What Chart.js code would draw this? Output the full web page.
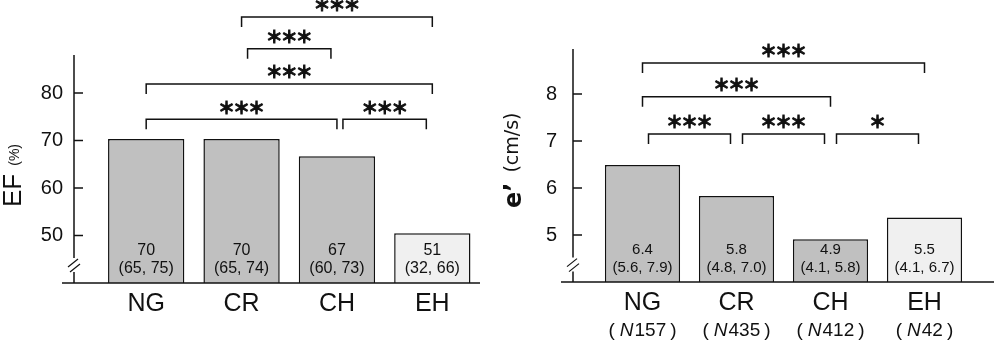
<!DOCTYPE html>
<html>
<head>
<meta charset="utf-8">
<script src="https://cdn.jsdelivr.net/npm/chart.js@4.4.1/dist/chart.umd.min.js"></script>
<style>
body { margin: 0; background: #fff; }
#wrap { position: relative; width: 994px; height: 354px; }
canvas { position: absolute; top: 0; }
</style>
</head>
<body>
<div id="wrap">
  <canvas id="efChart" width="494" height="354" style="left:0"></canvas>
  <canvas id="eChart" width="500" height="354" style="left:494px"></canvas>
</div>
<script>
// data
var groups = ["NG", "CR", "CH", "EH"];

var efValues = [70.3, 70.3, 66.7, 50.5];
var efMedians = ["70", "70", "67", "51"];
var efRanges = ["(65, 75)", "(65, 74)", "(60, 73)", "(32, 66)"];
var efTicks = [50, 60, 70, 80];
var efPairFrom = [1, 1, 0, 0, 2];
var efPairTo = [3, 2, 3, 2, 3];
var efPairLevel = [96, 89.3, 81.9, 74.5, 74.5];
var efPairMark = ["***", "***", "***", "***", "***"];

var eValues = [6.49, 5.83, 4.91, 5.37];
var eMedians = ["6.4", "5.8", "4.9", "5.5"];
var eRanges = ["(5.6, 7.9)", "(4.8, 7.0)", "(4.1, 5.8)", "(4.1, 6.7)"];
var eCounts = ["157", "435", "412", "42"];
var eTicks = [5, 6, 7, 8];
var ePairFrom = [0, 0, 0, 1, 2];
var ePairTo = [3, 2, 1, 2, 3];
var ePairLevel = [8.66, 7.94, 7.15, 7.15, 7.15];
var ePairMark = ["***", "***", "***", "***", "*"];

var INK = "#111";
var SANS = '"Liberation Sans", Arial, sans-serif';
var barFill = ["#c0c0c0", "#c0c0c0", "#c0c0c0", "#f0f0f0"];

function seg(ctx, x1, y1, x2, y2) {
    ctx.beginPath();
    ctx.moveTo(x1, y1);
    ctx.lineTo(x2, y2);
    ctx.stroke();
}

function decorPlugin(cfg) {
    return {
        id: "decor",
        afterDatasetsDraw: function (chart) {
            var ctx = chart.ctx;
            var xs = chart.scales.x, ys = chart.scales.y;
            var axisX = chart.chartArea.left - cfg.axisGap;
            var y0 = ys.getPixelForValue(ys.min);
            ctx.save();
            ctx.strokeStyle = INK;
            ctx.fillStyle = INK;
            ctx.lineWidth = 1.5;

            // baseline + y axis with break
            seg(ctx, axisX - 12, y0, cfg.wideBase ? chart.width : chart.chartArea.right, y0);
            var bc = ys.getPixelForValue(cfg.breakAt);
            seg(ctx, axisX, y0, axisX, bc + 7);
            seg(ctx, axisX, bc - 7, axisX, ys.getPixelForValue(cfg.axisTop));
            ctx.lineWidth = 1.2;
            seg(ctx, axisX - 6, bc + 2, axisX + 4, bc - 6);
            seg(ctx, axisX - 4, bc + 7, axisX + 6, bc - 1);
            ctx.lineWidth = 1.5;
            cfg.ticks.forEach(function (v) {
                var py = ys.getPixelForValue(v);
                seg(ctx, axisX, py, axisX + 9, py);
            });

            // medians inside bars
            ctx.textAlign = "center";
            ctx.textBaseline = "middle";
            ctx.font = cfg.valueSize + "px " + SANS;
            chart.getDatasetMeta(0).data.forEach(function (bar, i) {
                ctx.fillText(cfg.medians[i], bar.x, y0 - 32);
                ctx.fillText(cfg.ranges[i], bar.x, y0 - 14);
            });

            // significance brackets
            cfg.from.forEach(function (f, k) {
                var t = cfg.to[k];
                var inset = (t - f === 1) ? 6 : 0;
                var xa = xs.getPixelForValue(f) + inset;
                var xb = xs.getPixelForValue(t) - inset;
                var py = ys.getPixelForValue(cfg.level[k]);
                ctx.lineWidth = 1.5;
                ctx.beginPath();
                ctx.moveTo(xa, py + 10);
                ctx.lineTo(xa, py);
                ctx.lineTo(xb, py);
                ctx.lineTo(xb, py + 10);
                ctx.stroke();
                var n = cfg.marks[k].length;
                ctx.font = 'bold 17px "Noto Sans CJK JP", sans-serif';
                ctx.lineWidth = 1;
                for (var j = 0; j < n; j++) {
                    var sx = (xa + xb) / 2 + (j - (n - 1) / 2) * 15;
                    ctx.fillText("\uFF0A", sx, py - 12);
                    ctx.strokeText("\uFF0A", sx, py - 12);
                }
            });

            // N line under categories
            if (cfg.counts) {
                ctx.textAlign = "left";
                ctx.textBaseline = "middle";
                cfg.counts.forEach(function (c, i) {
                    var parts = [["(", "", 5], ["N", "italic ", 1], [c, "", 4], [")", "", 0]];
                    var total = 0;
                    parts.forEach(function (p) {
                        ctx.font = p[1] + "19px " + SANS;
                        total += ctx.measureText(p[0]).width + p[2];
                    });
                    var px = xs.getPixelForValue(i) - total / 2;
                    parts.forEach(function (p) {
                        ctx.font = p[1] + "19px " + SANS;
                        ctx.fillText(p[0], px, 331);
                        px += ctx.measureText(p[0]).width + p[2];
                    });
                });
            }

            // rotated axis title
            cfg.title(ctx);
            ctx.restore();
        }
    };
}

function makeChart(id, values, yMin, yMax, ticks, pad, yWidth, xHeight, extra) {
    return new Chart(document.getElementById(id), {
        type: "bar",
        data: {
            labels: groups,
            datasets: [{
                data: values,
                backgroundColor: barFill,
                borderColor: INK,
                borderWidth: 1.5,
                borderSkipped: false,
                categoryPercentage: 0.8,
                barPercentage: 1
            }]
        },
        options: {
            responsive: false,
            devicePixelRatio: 1,
            animation: false,
            layout: { padding: pad },
            plugins: {
                legend: { display: false },
                tooltip: { enabled: false }
            },
            scales: {
                x: {
                    grid: { display: false, drawTicks: false },
                    border: { display: false },
                    ticks: { padding: 6, color: INK, font: { family: SANS, size: 25 } },
                    afterFit: function (s) {
                        s.height = xHeight;
                        s.paddingLeft = 0;
                        s.paddingRight = 0;
                    }
                },
                y: {
                    min: yMin,
                    max: yMax,
                    grid: { display: false, drawTicks: false },
                    border: { display: false },
                    ticks: { padding: yWidth - 63, color: INK, font: { family: SANS, size: 20 } },
                    afterBuildTicks: function (s) {
                        s.ticks = ticks.map(function (v) { return { value: v }; });
                    },
                    afterFit: function (s) {
                        s.width = yWidth;
                        s.paddingTop = 0;
                        s.paddingBottom = 0;
                    }
                }
            }
        },
        plugins: [decorPlugin(extra)]
    });
}

makeChart("efChart", efValues, 40, 98, efTicks,
    { top: 7.5, right: 14, left: 0, bottom: 0 }, 98.5, 71, {
        axisGap: 24.5, axisTop: 88, breakAt: 43.8, ticks: efTicks, wideBase: false,
        medians: efMedians, ranges: efRanges, valueSize: 16,
        from: efPairFrom, to: efPairTo, level: efPairLevel, marks: efPairMark,
        title: function (ctx) {
            ctx.save();
            ctx.translate(21, 207);
            ctx.rotate(-Math.PI / 2);
            ctx.textAlign = "left";
            ctx.textBaseline = "alphabetic";
            ctx.font = "26px " + SANS;
            ctx.fillText("EF", 0, 0);
            var w = ctx.measureText("EF").width;
            ctx.font = "14px " + SANS;
            ctx.fillText("(%)", w + 8, -2.5);
            ctx.restore();
        }
    });

makeChart("eChart", eValues, 4, 9.8, eTicks,
    { top: 9.4, right: 22.5, left: 0, bottom: 0 }, 101.5, 72, {
        axisGap: 22.5, axisTop: 8.96, breakAt: 4.37, ticks: eTicks, wideBase: true,
        medians: eMedians, ranges: eRanges, valueSize: 15, counts: eCounts,
        from: ePairFrom, to: ePairTo, level: ePairLevel, marks: ePairMark,
        title: function (ctx) {
            ctx.save();
            ctx.translate(27, 208);
            ctx.rotate(-Math.PI / 2);
            ctx.textAlign = "left";
            ctx.textBaseline = "alphabetic";
            ctx.font = 'bold 24px "DejaVu Sans", sans-serif';
            ctx.fillText("e\u2019", 0, 0);
            var w = ctx.measureText("e\u2019").width;
            ctx.font = '19px "DejaVu Sans", sans-serif';
            ctx.fillText("(cm/s)", w + 10, -3);
            ctx.restore();
        }
    });
</script>
</body>
</html>
